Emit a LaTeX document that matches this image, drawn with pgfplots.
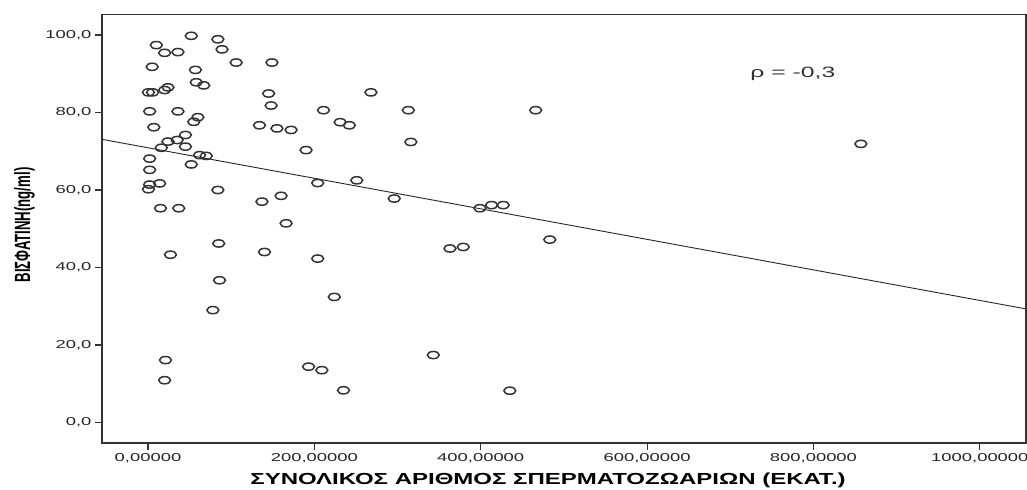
\documentclass[border=0pt]{standalone}
\usepackage{fontspec}
\setmainfont{Liberation Sans}
\usepackage{pgfplots}
\pgfplotsset{compat=1.18}
\newfontfamily\tickfont[FakeStretch=1.6]{Liberation Sans}
\newfontfamily\xlabfont[FakeStretch=1.5]{Liberation Sans}
\newfontfamily\ylabfont[FakeStretch=0.6]{Liberation Sans}
\newfontfamily\rhofont[FakeStretch=1.65]{Liberation Sans}
\definecolor{axgray}{HTML}{333333}
\begin{document}
\begin{tikzpicture}
\useasboundingbox (0,0) rectangle (1027bp,490bp);
\begin{axis}[
  at={(102bp,47bp)}, anchor=south west,
  scale only axis, width=924bp, height=428.5bp,
  xmin=-55.3, xmax=1055.5, ymin=-5.3, ymax=105.3,
  axis line style={draw=axgray, line width=1.2bp},
  tick align=outside, major tick length=7bp,
  tick style={draw=axgray, line width=1.2bp},
  xtick pos=bottom, ytick pos=left,
  xtick={0,200,400,600,800,1000},
  xticklabels={{0,00000},{200,00000},{400,00000},{600,00000},{800,00000},{1000,00000}},
  ytick={0,20,40,60,80,100},
  yticklabels={{0,0},{20,0},{40,0},{60,0},{80,0},{100,0}},
  xticklabel style={font=\tickfont\fontsize{11.5bp}{13bp}\selectfont, text=black!85},
  yticklabel style={font=\tickfont\fontsize{11.5bp}{13bp}\selectfont, text=black!85},
  xlabel={ΣΥΝΟΛΙΚΟΣ ΑΡΙΘΜΟΣ ΣΠΕΡΜΑΤΟΖΩΑΡΙΩΝ (ΕΚΑΤ.)},
  ylabel={ΒΙΣΦΑΤΙΝΗ(ng/ml)},
  xlabel style={at={(axis description cs:0.4827,-0.098)}, anchor=base,
    font=\xlabfont\bfseries\fontsize{16bp}{18bp}\selectfont, text=black},
  ylabel style={at={(axis description cs:-0.0779,0.5088)}, anchor=base,
    font=\ylabfont\bfseries\fontsize{22bp}{24bp}\selectfont, text=black},
]
\addplot[only marks, mark=o, mark size=3.6bp,
  mark options={xscale=1.65, draw=black!80, line width=1.5bp, fill=none}]
  table {
x y
52 99.8
84 98.9
89 96.3
10 97.4
20 95.4
36 95.6
5 91.8
57 91.0
106 92.9
149 92.9
0.5 85.2
5.5 85.2
20 85.8
24 86.5
58 87.8
67 87.0
145 84.9
268 85.2
148 81.8
2 80.3
36 80.3
60 78.8
55 77.6
211 80.6
313 80.6
7 76.2
134 76.7
155 75.9
172 75.5
231 77.5
242 76.7
45 74.2
24 72.5
35 72.9
16 70.9
45 71.2
316 72.4
190 70.3
62 69.0
70 68.8
52 66.6
2 68.1
2 65.2
2 61.4
14 61.7
0.5 60.2
204 61.8
251 62.5
84 60.0
15 55.3
37 55.3
137 57.0
160 58.5
296 57.8
166 51.4
85 46.2
27 43.3
140 44.0
204 42.3
86 36.7
224 32.4
78 29.0
21 16.1
20 10.9
193 14.4
209 13.5
235 8.3
466 80.6
399 55.3
413 56.1
427 56.1
363 44.9
379 45.3
483 47.2
343 17.4
435 8.2
857 71.9
};
\addplot[black!85, line width=0.9bp] coordinates {(-55.3,73.08) (1055.5,29.31)};
\node[anchor=base west, font=\rhofont\fontsize{15bp}{17bp}\selectfont, text=black!80, inner sep=0pt]
  at (axis cs:724,89.1) {ρ = -0,3};
\end{axis}
\end{tikzpicture}
\end{document}
